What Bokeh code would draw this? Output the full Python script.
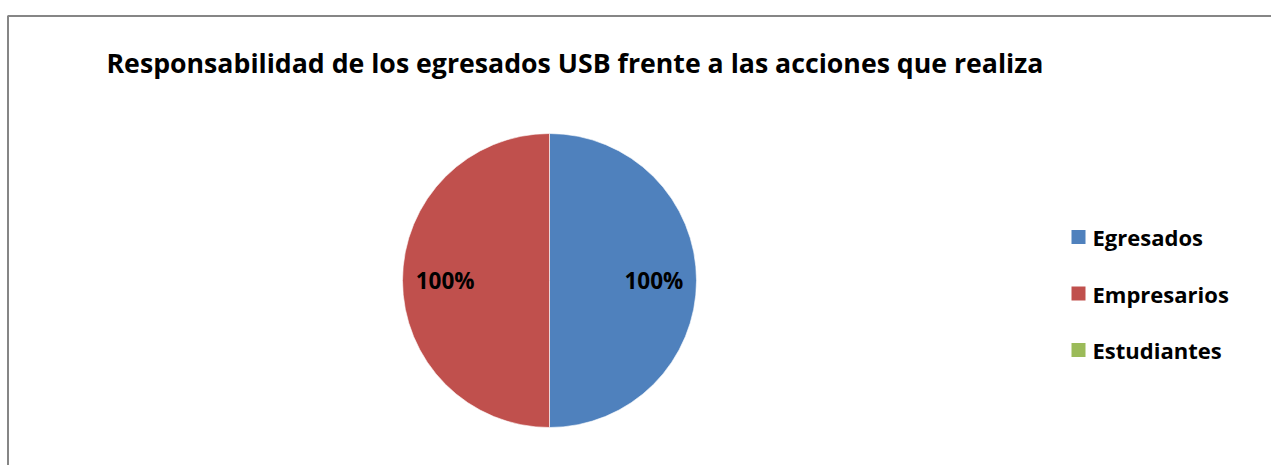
import numpy as np
from bokeh.plotting import figure
from bokeh.models import Range1d, ColumnDataSource
from bokeh.core.properties import value
from bokeh.embed import file_html
from bokeh.resources import INLINE

title = "Responsabilidad de los egresados USB frente a las acciones que realiza"
categories = ["Egresados", "Empresarios", "Estudiantes"]
values = [100, 100, 0]
labels = ["100%", "100%", "0%"]
colors = ["#4F81BD", "#C0504D", "#9BBB59"]

W, H = 1271, 465
p = figure(width=W, height=H, output_backend="svg", toolbar_location=None,
           x_range=Range1d(0, W), y_range=Range1d(0, H),
           min_border=0, outline_line_color=None)
p.axis.visible = False
p.grid.visible = False
p.background_fill_color = "white"
p.border_fill_color = "white"

FONT = value("Open Sans")

# chart border (top and left edges of the chart area)
p.line(x=[7.5, 7.5, W + 5], y=[-5, H - 15.5, H - 15.5], line_color="#868686", line_width=2)

# title
p.text(x=[106], y=[H - 62], text=[title], text_font=FONT, text_font_style="bold",
       text_font_size="26.7px", text_baseline="middle", text_align="left", text_color="black")

# pie
cx, cy, r = 549, H - 280, 147
vals = np.array(values, dtype=float)
frac = vals / vals.sum()
cum = np.concatenate([[0], np.cumsum(frac)])
start = np.pi / 2 - 2 * np.pi * cum[:-1]
end = np.pi / 2 - 2 * np.pi * cum[1:]
mask = vals > 0
src = ColumnDataSource(dict(start=start[mask], end=end[mask], color=np.array(colors)[mask]))
p.wedge(x=cx, y=cy, radius=r, start_angle="start", end_angle="end", direction="clock",
        fill_color="color", line_color="white", line_width=0.6, source=src)

mid = (start + end) / 2
lx = cx + 0.71 * r * np.cos(mid[mask])
ly = cy + 0.71 * r * np.sin(mid[mask])
p.text(x=lx, y=ly, text=list(np.array(labels)[mask]), text_font=FONT, text_font_style="bold",
       text_font_size="22.5px", text_align="center", text_baseline="middle", text_color="black")

# legend
ly0 = H - 236.5
gap = 56.5
leg_y = [ly0 - i * gap for i in range(len(categories))]
p.rect(x=[1078] * len(categories), y=leg_y, width=14, height=14, width_units="screen",
       height_units="screen", fill_color=colors, line_color=None)
p.text(x=[1092] * len(categories), y=leg_y, text=categories, text_font=FONT,
       text_font_style="bold", text_font_size="22px", text_baseline="middle", text_align="left",
       text_color="black")

open("out.html", "w").write(file_html(p, INLINE))
